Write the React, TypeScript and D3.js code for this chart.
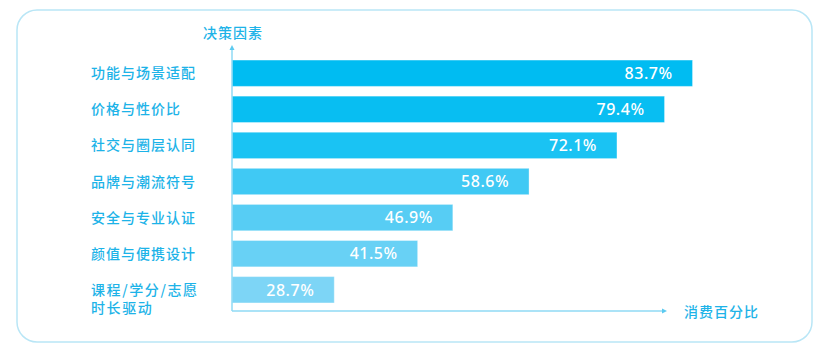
import { useMemo } from 'react';
import * as d3 from 'd3';

const categories = [
    '功能与场景适配',
    '价格与性价比',
    '社交与圈层认同',
    '品牌与潮流符号',
    '安全与专业认证',
    '颜值与便携设计',
    '课程/学分/志愿\n时长驱动',
];
const shares = [83.7, 79.4, 72.1, 58.6, 46.9, 41.5, 28.7];
const barColors = ['#00bcf2', '#08bef2', '#1ac3f3', '#40c9f4', '#57cdf4', '#68d1f5', '#7dd5f6'];
const yAxisTitle = '决策因素';
const xAxisTitle = '消费百分比';

const width = 835;
const height = 353;
const axisX = 232;
const axisBottom = 311;
const labelColor = '#1db3e8';
const font = '"Noto Sans CJK SC", "Noto Sans", sans-serif';

export default function App() {
    const yScale = useMemo(
        () =>
            d3
                .scaleBand<string>()
                .domain(categories)
                .range([55, 308])
                .paddingInner(0.27)
                .paddingOuter(0.14),
        []
    );
    // no ticks on the value axis; the bars start from the axis
    const xScale = useMemo(() => d3.scaleLinear().domain([13, 85]).range([axisX, 701]), []);

    const bars = categories.map((c, i) => ({
        key: c,
        lines: c.split('\n'),
        value: shares[i],
        fill: barColors[i],
        x: xScale.range()[0],
        y: yScale(c)!,
        w: xScale(shares[i]) - xScale.range()[0],
        h: yScale.bandwidth(),
    }));

    return (
        <svg
            width={width}
            height={height}
            viewBox={`0 0 ${width} ${height}`}
            style={{ position: 'absolute', left: 0, top: 0, display: 'block', background: '#fff' }}
            fontFamily={font}
        >
            <rect x={17} y={10} width={795} height={332} rx={20} fill="none" stroke="#b9e6f6" strokeWidth={1.5} />

            {bars.map((b) => (
                <g key={b.key}>
                    <rect x={b.x} y={b.y} width={b.w} height={b.h} fill={b.fill} stroke="#ffffff" strokeOpacity={0.35} />
                    <text
                        x={b.x + b.w - 20}
                        y={b.y + b.h / 2}
                        dy="0.36em"
                        textAnchor="end"
                        fill="#fff"
                        fontSize={16}
                        fontWeight={500}
                        letterSpacing={0.5}
                        fontFamily='"Noto Sans", sans-serif'
                    >
                        {b.value.toFixed(1)}%
                    </text>
                    <text x={91} y={b.y + b.h / 2} fill={labelColor} fontSize={14} fontWeight={500} letterSpacing={1}>
                        {b.lines.map((l, j) => (
                            <tspan key={j} x={91} dy={j === 0 ? '0.36em' : 18} letterSpacing={b.lines.length > 1 ? 1.6 : 1}>
                                {l}
                            </tspan>
                        ))}
                    </text>
                </g>
            ))}

            {/* axes */}
            <line x1={axisX} x2={axisX} y1={axisBottom} y2={48} stroke="#8fdaf4" strokeWidth={1.5} />
            <path d={`M${axisX - 2.5},${50} L${axisX},${45} L${axisX + 2.5},${50} Z`} fill="#5ccaf0" />
            <line x1={axisX} x2={664} y1={axisBottom} y2={axisBottom} stroke="#8fdaf4" strokeWidth={1.5} />
            <path d={`M662,${axisBottom - 2.5} L667,${axisBottom} L662,${axisBottom + 2.5} Z`} fill="#5ccaf0" />

            <text x={233} y={33} dy="0.36em" textAnchor="middle" fill={labelColor} fontSize={14} fontWeight={500} letterSpacing={1}>
                {yAxisTitle}
            </text>
            <text x={684} y={312} dy="0.36em" fill={labelColor} fontSize={14} fontWeight={500} letterSpacing={1}>
                {xAxisTitle}
            </text>
        </svg>
    );
}
